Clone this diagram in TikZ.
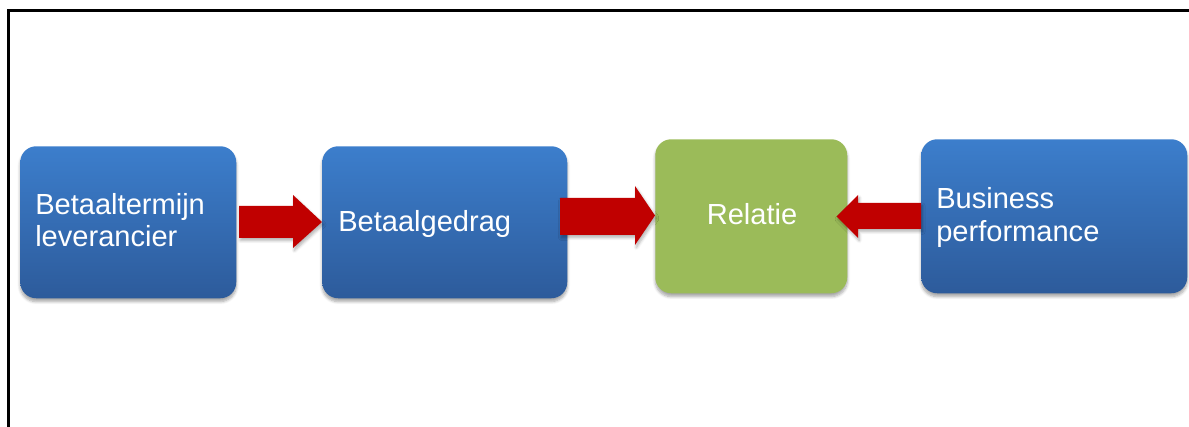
\documentclass[tikz,border=0pt]{standalone}
\usepackage{fontspec}
\setmainfont{Liberation Sans}
\usetikzlibrary{shadows.blur}
\definecolor{boxtop}{RGB}{60,126,204}
\definecolor{boxbot}{RGB}{45,91,155}
\definecolor{relgreen}{RGB}{155,187,89}
\definecolor{arrred}{RGB}{192,0,0}
\tikzset{
  card/.style={rounded corners=12, inner sep=0pt, anchor=north west,
    blur shadow={shadow blur steps=6, shadow xshift=0pt, shadow yshift=-2.5pt, shadow opacity=35}},
  bluecard/.style={card, top color=boxtop, bottom color=boxbot},
  greencard/.style={card, fill=relgreen},
  cardtext/.style={text=white, font=\fontsize{21.8}{24.6}\selectfont, inner sep=0pt},
  blockarrow/.style={fill=arrred,
    blur shadow={shadow blur steps=5, shadow xshift=1pt, shadow yshift=-2pt, shadow opacity=30}},
  frameline/.style={line width=2.25pt, black}
}
\begin{document}
\begin{tikzpicture}[x=0.75pt, y=-0.75pt]
  \useasboundingbox (0,0) rectangle (1189,427);
  \clip (0,0) rectangle (1189,427);
  % outer frame (left and top edges)
  \draw[frameline] (8,440) -- (8,11) -- (1200,11);

  % boxes
  \node[bluecard, minimum width=216*0.75pt, minimum height=152*0.75pt] (b1) at (20,146) {};
  \node[bluecard, minimum width=245*0.75pt, minimum height=152*0.75pt] (b2) at (322,146) {};
  \node[greencard, minimum width=192*0.75pt, minimum height=154*0.75pt] (b3) at (655,139) {};
  \node[bluecard, minimum width=266*0.75pt, minimum height=154*0.75pt] (b4) at (921,139) {};

  % labels, one node per printed line
  \node[cardtext, anchor=base west] (t1a) at (35,215) {Betaaltermijn};
  \node[cardtext, anchor=base west] (t1b) at (35,247) {leverancier};
  \node[cardtext, anchor=base west] (t2) at (338,232) {Betaalgedrag};
  \node[cardtext, anchor=base] (t3) at (752,225) {Relatie};
  \node[cardtext, anchor=base west] (t4a) at (936,209) {Business};
  \node[cardtext, anchor=base west] (t4b) at (936,242) {performance};

  % block arrows between the boxes
  \fill[blockarrow] (239,206) -- (293,206) -- (293,195) -- (b2.west |- 0,222)
    -- (293,248) -- (293,238) -- (239,238) -- cycle;
  \fill[blockarrow] (560,198) -- (635,198) -- (635,186) -- (b3.west |- 0,215.5)
    -- (635,245) -- (635,235) -- (560,235) -- cycle;
  \fill[blockarrow] (b4.west |- 0,203) -- (858,203) -- (858,195) -- ([xshift=-11*0.75pt]b3.east |- 0,216.5)
    -- (858,238) -- (858,229) -- (b4.west |- 0,229) -- cycle;
\end{tikzpicture}
\end{document}
